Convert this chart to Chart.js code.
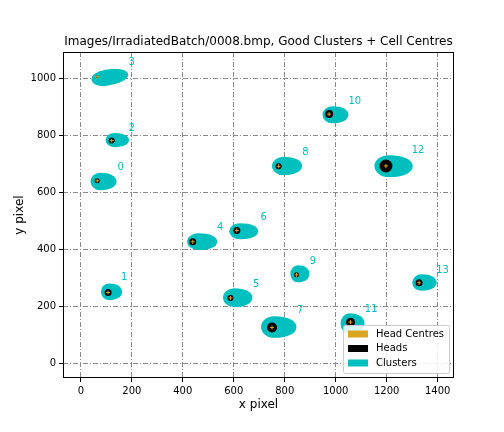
<!DOCTYPE html>
<html>
<head>
<meta charset="utf-8">
<script src="https://cdn.jsdelivr.net/npm/chart.js@4.4.0/dist/chart.umd.min.js"></script>
<style>
  html, body { margin: 0; padding: 0; background: #fff; }
</style>
</head>
<body>
<canvas id="chart" width="504" height="432"></canvas>
<script>
// cluster ids and the labels drawn next to each cluster
const clusterIds = [0, 1, 2, 3, 4, 5, 6, 7, 8, 9, 10, 11, 12, 13];
const labelX = [156, 170, 199, 199, 547, 688, 717, 861, 881, 911, 1075, 1139, 1323, 1419];
const labelY = [687, 301, 824, 1055, 476, 276, 511, 186, 741, 358, 919, 189, 747, 326];

// cluster extents (pixel coords of the image)
const clusterLeft   = [38, 79, 97, 41, 417, 558, 582, 707, 750, 822, 948, 1019, 1152, 1300];
const clusterRight  = [140, 162, 189, 187, 535, 673, 696, 846, 868, 897, 1050, 1113, 1302, 1396];
const clusterTop    = [668, 280, 808, 1032, 456, 263, 491, 165, 724, 344, 902, 175, 730, 312];
const clusterBottom = [607, 221, 758, 976, 397, 197, 435, 89, 660, 284, 842, 102, 653, 254];
const clusterTilt   = [0, 0, 0, -9, 0, 0, 0, 0, 0, 0, 0, 0, 0, 0];

// heads: centre and size
const headX = [64, 107, 121, 64, 439, 587, 612, 750, 776, 846, 974, 1058, 1197, 1327];
const headY = [640, 248, 781, 1005, 426, 229, 466, 125, 691, 310, 874, 144, 692, 282];
const headR = [2.5, 3.5, 3, 1.2, 3.5, 3, 3.5, 5, 3, 2.5, 4, 4.5, 6.5, 3.5];

const xTickValues = [0, 200, 400, 600, 800, 1000, 1200, 1400];
const yTickValues = [0, 200, 400, 600, 800, 1000];

const clusterColour = '#00bfbf';
const headColour = '#000000';
const centreColour = '#daa520';

Chart.defaults.font.family = '"DejaVu Sans", sans-serif';

// draws the cluster blobs and their numbers
const clusterPlugin = {
    id: 'clusters',
    beforeDatasetsDraw(chart) {
        const ctx = chart.ctx;
        const xs = chart.scales.x, ys = chart.scales.y, area = chart.chartArea;
        ctx.save();
        ctx.beginPath();
        ctx.rect(area.left, area.top, area.right - area.left, area.bottom - area.top);
        ctx.clip();
        ctx.fillStyle = clusterColour;
        for (let i = 0; i < clusterIds.length; i++) {
            const l = xs.getPixelForValue(clusterLeft[i]);
            const r = xs.getPixelForValue(clusterRight[i]);
            const t = ys.getPixelForValue(clusterTop[i]);
            const b = ys.getPixelForValue(clusterBottom[i]);
            const w = r - l, ry = (b - t) / 2;
            ctx.save();
            ctx.translate((l + r) / 2, (t + b) / 2);
            ctx.rotate(clusterTilt[i] * Math.PI / 180);
            // egg shape, round on the left, tapering to the right
            const wx = -w / 2 + 0.38 * w;
            const rxL = 0.38 * w, rxR = 0.62 * w;
            ctx.beginPath();
            ctx.moveTo(wx, -ry);
            ctx.ellipse(wx, 0, rxL, ry, 0, -Math.PI / 2, Math.PI / 2, true);
            ctx.bezierCurveTo(wx + rxR * 0.6, ry, w / 2, ry * 0.6, w / 2, 0);
            ctx.bezierCurveTo(w / 2, -ry * 0.6, wx + rxR * 0.6, -ry, wx, -ry);
            ctx.fill();
            ctx.restore();
        }
        ctx.fillStyle = clusterColour;
        ctx.font = '10px "DejaVu Sans"';
        ctx.textAlign = 'center';
        ctx.textBaseline = 'middle';
        clusterIds.forEach((id, i) => {
            ctx.fillText(String(id), xs.getPixelForValue(labelX[i]), ys.getPixelForValue(labelY[i]));
        });
        ctx.restore();
    },
    afterDraw(chart) {
        const ctx = chart.ctx, area = chart.chartArea;
        // frame round the axes
        ctx.save();
        ctx.strokeStyle = '#000';
        ctx.lineWidth = 1;
        ctx.strokeRect(Math.round(area.left) + 0.5, Math.round(area.top) + 0.5,
            Math.round(area.right - area.left) - 1, Math.round(area.bottom - area.top) - 1);

        // legend in the lower right corner
        const items = chart.data.datasets.map(d => ({ label: d.label, colour: d.backgroundColor })).reverse();
        ctx.font = '10px "DejaVu Sans"';
        const textW = Math.max(...items.map(it => ctx.measureText(it.label).width));
        const boxW = 5 + 20 + 8 + textW + 5;
        const boxH = 48;
        const bx = area.right - 5 - boxW, by = area.bottom - 5 - boxH;
        ctx.beginPath();
        ctx.roundRect(bx + 0.5, by + 0.5, boxW, boxH, 2);
        ctx.fillStyle = 'rgba(255,255,255,0.85)';
        ctx.fill();
        ctx.strokeStyle = '#cccccc';
        ctx.stroke();
        ctx.textAlign = 'left';
        ctx.textBaseline = 'middle';
        items.forEach((it, k) => {
            const yy = by + 9 + k * 14.5;
            ctx.fillStyle = it.colour;
            ctx.fillRect(bx + 5, yy - 3.5, 20, 7);
            ctx.fillStyle = '#000';
            ctx.fillText(it.label, bx + 33, yy);
        });
        ctx.restore();
    }
};

const clusterData = clusterIds.map((id, i) => ({
    x: (clusterLeft[i] + clusterRight[i]) / 2,
    y: (clusterTop[i] + clusterBottom[i]) / 2
}));
const headData = clusterIds.map((id, i) => ({ x: headX[i], y: headY[i], r: headR[i] }));
const centreData = clusterIds.map((id, i) => ({ x: headX[i], y: headY[i] }));

const tickFont = { size: 10 };

new Chart(document.getElementById('chart'), {
    type: 'scatter',
    data: {
        datasets: [
            { label: 'Clusters', data: clusterData, backgroundColor: clusterColour, pointRadius: 0, order: 2 },
            { type: 'bubble', label: 'Heads', data: headData, backgroundColor: headColour, borderWidth: 0, order: 1 },
            {
                label: 'Head Centres', data: centreData, backgroundColor: centreColour,
                borderColor: centreColour, pointStyle: 'cross', pointRadius: 2, borderWidth: 1, order: 0
            }
        ]
    },
    options: {
        responsive: false,
        animation: false,
        events: [],
        layout: { padding: { left: 0, right: 50, top: 0, bottom: 0 } },
        plugins: {
            legend: { display: false },
            tooltip: { enabled: false },
            title: {
                display: true,
                fullSize: false,
                text: 'Images/IrradiatedBatch/0008.bmp, Good Clusters + Cell Centres',
                color: '#000',
                font: { size: 12, weight: 'normal' },
                padding: { top: 35, bottom: 2.6 }
            }
        },
        scales: {
            x: {
                type: 'linear',
                min: -70,
                max: 1464,
                afterBuildTicks: s => { s.ticks = xTickValues.map(v => ({ value: v })); },
                afterFit: s => { s.height = 54; },
                ticks: { font: tickFont, color: '#000', padding: 3, maxRotation: 0, callback: v => String(v) },
                grid: { color: '#8a8a8a', lineWidth: 1, drawTicks: true, tickLength: 4, tickColor: '#000', tickWidth: 1, tickBorderDash: [] },
                border: { display: false, dash: [5, 2, 1, 2] },
                title: { display: true, text: 'x pixel', color: '#000', font: { size: 12 }, padding: { top: 0, bottom: 20 } }
            },
            y: {
                type: 'linear',
                min: -52,
                max: 1092,
                afterBuildTicks: s => { s.ticks = yTickValues.map(v => ({ value: v })); },
                afterFit: s => { s.width = 63; },
                ticks: { font: tickFont, color: '#000', padding: 3, callback: v => String(v) },
                grid: { color: '#8a8a8a', lineWidth: 1, drawTicks: true, tickLength: 4, tickColor: '#000', tickWidth: 1, tickBorderDash: [] },
                border: { display: false, dash: [5, 2, 1, 2] },
                title: { display: true, text: 'y pixel', color: '#000', font: { size: 12 }, padding: { top: 13, bottom: 0 } }
            }
        }
    },
    plugins: [clusterPlugin]
});
</script>
</body>
</html>
